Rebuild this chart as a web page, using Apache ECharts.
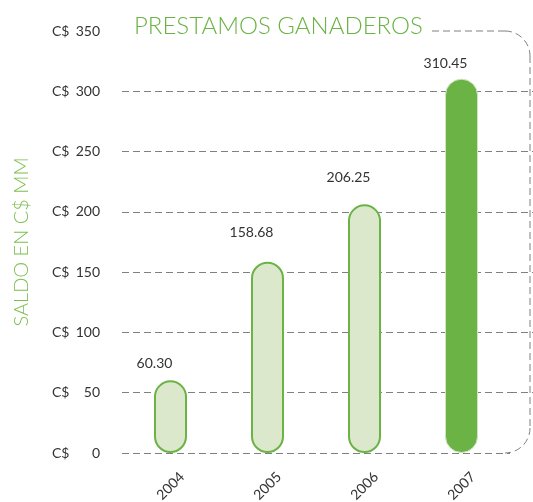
<!DOCTYPE html>
<html>
<head>
<meta charset="utf-8">
<script src="https://cdn.jsdelivr.net/npm/echarts@6/dist/echarts.min.js"></script>
<style>
  html, body { margin: 0; padding: 0; background: #fff; }
  #chart { width: 533px; height: 502px; }
</style>
</head>
<body>
<div id="chart"></div>
<script>
const years = ['2004', '2005', '2006', '2007']
const saldo = [60.30, 158.68, 206.25, 310.45]
const yTicks = [0, 50, 100, 150, 200, 250, 300, 350]

const GREEN = '#6ab344'
const LIGHT = '#dce8cc'
// how far each value label sits above its bar
const labelLift = [10, 22, 20, 8]

const chart = echarts.init(document.getElementById('chart'))

const dash = [7, 4]
const gridLines = yTicks.map(v => (v === 350 ? 'transparent' : '#808080'))
const frameStyle = { fill: null, stroke: '#808080', lineWidth: 1, lineDash: dash }

chart.setOption({
  animation: false,
  textStyle: { fontFamily: 'Lato, "Noto Sans", sans-serif' },
  title: {
    text: 'PRESTAMOS GANADEROS',
    left: 129,
    top: 9,
    textStyle: { color: GREEN, fontSize: 24, fontWeight: 300, fontFamily: 'Lato, sans-serif' },
  },
  grid: [
    { left: 122, right: 23, top: 31, bottom: 49, outerBoundsMode: 'none' },
    { left: 510, right: 0, top: 31, bottom: 49, outerBoundsMode: 'none' },
  ],
  xAxis: [
    {
      type: 'category',
      data: years,
      axisLine: { show: false },
      axisTick: { show: false },
      axisLabel: {
        rotate: 45,
        align: 'center',
        verticalAlign: 'middle',
        color: '#333',
        fontSize: 14,
        margin: 33,
      },
    },
    {
      gridIndex: 1,
      type: 'category',
      data: [''],
      axisLine: { show: false },
      axisTick: { show: false },
      axisLabel: { show: false },
    },
  ],
  yAxis: [
    {
      type: 'value',
      min: 0,
      max: 350,
      interval: 50,
      name: 'SALDO EN C$ MM',
      nameLocation: 'middle',
      nameRotate: 90,
      nameGap: 90,
      nameTextStyle: { color: '#7cbf50', fontSize: 20, fontWeight: 300 },
      axisLine: { show: false },
      axisTick: { show: false },
      axisLabel: {
        margin: 22,
        formatter: v => `{c|C$}{n|${v}}`,
        rich: {
          c: { width: 22, align: 'left', color: '#333', fontSize: 14 },
          n: { width: 26, align: 'right', color: '#333', fontSize: 14 },
        },
      },
      splitLine: { lineStyle: { color: gridLines, type: dash, width: 1 } },
    },
    {
      gridIndex: 1,
      type: 'value',
      min: 0,
      max: 350,
      interval: 50,
      axisLine: { show: false },
      axisTick: { show: false },
      axisLabel: { show: false },
      splitLine: {
        lineStyle: {
          color: yTicks.map(v => (v === 0 || v === 350 ? 'transparent' : '#808080')),
          type: dash,
          width: 1,
        },
      },
    },
  ],
  graphic: [
    { type: 'line', shape: { x1: 432, y1: 31, x2: 505, y2: 31 }, style: frameStyle },
    { type: 'arc', shape: { cx: 505, cy: 56, r: 25, startAngle: -Math.PI / 2, endAngle: 0, clockwise: true }, style: frameStyle },
    { type: 'line', shape: { x1: 530, y1: 56, x2: 530, y2: 428 }, style: frameStyle },
    { type: 'arc', shape: { cx: 505, cy: 428, r: 25, startAngle: 0, endAngle: Math.PI / 2, clockwise: true }, style: frameStyle },
  ],
  series: [
    {
      type: 'bar',
      barWidth: 33,
      z: 3,
      data: saldo.map((v, i) => {
        const last = i === saldo.length - 1
        return {
          value: v,
          itemStyle: last
            ? { color: GREEN, borderColor: '#cfe4bf', borderWidth: 1, borderRadius: 16 }
            : { color: LIGHT, borderColor: GREEN, borderWidth: 2, borderRadius: 16 },
          label: { offset: [-16, -labelLift[i]] },
        }
      }),
      label: {
        show: true,
        position: 'top',
        distance: 0,
        color: '#333',
        fontSize: 14,
        formatter: p => p.value.toFixed(2),
      },
    },
  ],
})
</script>
</body>
</html>
